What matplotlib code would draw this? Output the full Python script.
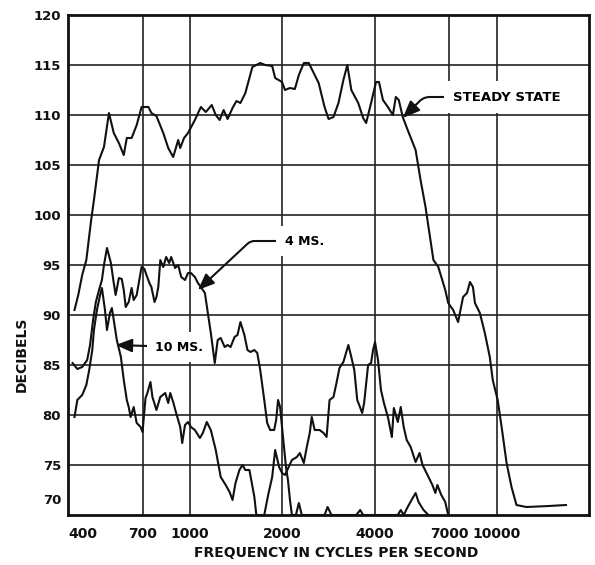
"""Transient spectra of a loudspeaker: steady state vs. 4 ms and 10 ms decay."""

import matplotlib
matplotlib.use("Agg")
import matplotlib.pyplot as plt

plt.rcParams["font.family"] = ["DejaVu Sans"]
plt.rcParams["font.weight"] = "bold"

# ---- data (frequency in Hz, level in dB) ----
steady_f = [420, 432, 445, 459, 476, 486, 505, 524, 544, 564, 586, 608, 622, 645,
            670, 695, 732, 748, 777, 818, 849, 881, 901, 915, 929, 956, 985, 1037,
            1085, 1126, 1177, 1213, 1249, 1287, 1326, 1376, 1417, 1460, 1515, 1597,
            1694, 1759, 1853, 1895, 1995, 2040, 2118, 2197, 2264, 2350, 2439, 2531,
            2627, 2746, 2830, 2936, 3048, 3163, 3258, 3357, 3536, 3669, 3752, 3894,
            4041, 4132, 4257, 4418, 4586, 4689, 4794, 4939, 5126, 5440, 5646, 5860,
            6081, 6218, 6452, 6796, 6949, 7213, 7485, 7769, 8003, 8184, 8368, 8493,
            8815, 9148, 9495, 9709, 10075, 10378, 10771, 11178, 11601, 12496, 14820,
            16820]
steady_db = [90.5, 92.0, 94.0, 95.5, 99.5, 101.5, 105.5, 106.8, 110.2, 108.2, 107.2,
             106.0, 107.7, 107.7, 109.0, 110.8, 110.8, 110.2, 109.9, 108.2, 106.7,
             105.8, 106.8, 107.5, 106.7, 107.7, 108.2, 109.5, 110.8, 110.3, 111.0,
             110.0, 109.5, 110.5, 109.6, 110.7, 111.4, 111.2, 112.2, 114.8, 115.2,
             115.0, 114.9, 113.7, 113.3, 112.5, 112.7, 112.6, 114.0, 115.2, 115.2,
             114.2, 113.2, 110.8, 109.6, 109.8, 111.2, 113.5, 115.0, 112.5, 111.2,
             109.7, 109.2, 111.2, 113.3, 113.3, 111.5, 110.8, 110.0, 111.8, 111.5,
             109.8, 108.5, 106.5, 103.5, 100.8, 97.5, 95.5, 94.8, 92.5, 91.2, 90.5,
             89.3, 91.8, 92.2, 93.3, 92.8, 91.2, 90.2, 88.2, 85.8, 83.5, 81.5, 78.8,
             75.2, 72.8, 71.0, 70.8, 70.9, 71.0]

ms4_f = [414, 429, 445, 462, 472, 483, 493, 505, 516, 524, 536, 552, 564, 572, 586,
         599, 608, 617, 631, 645, 655, 670, 685, 695, 710, 721, 737, 748, 766, 777,
         788, 800, 818, 836, 855, 868, 894, 915, 936, 963, 985, 1007, 1037, 1061,
         1085, 1118, 1143, 1169, 1204, 1231, 1259, 1297, 1326, 1356, 1397, 1428,
         1460, 1504, 1539, 1574, 1621, 1657, 1694, 1746, 1785, 1825, 1881, 1909,
         1937, 1966, 1995, 2025, 2055, 2086, 2118, 2149, 2214, 2264, 2315, 2746,
         2809, 2893, 3484, 3589, 3669, 4759, 4866, 4975, 5126, 5321, 5440, 5562,
         5773, 5992]
ms4_db = [85.2, 84.6, 84.8, 85.5, 87.0, 89.5, 91.3, 92.5, 93.5, 95.0, 96.7, 95.2,
          93.2, 92.0, 93.7, 93.6, 92.5, 90.8, 91.3, 92.7, 91.5, 92.0, 93.7, 94.8,
          94.6, 94.0, 93.2, 92.8, 91.3, 91.8, 92.8, 95.5, 94.8, 95.8, 95.2, 95.8,
          94.7, 95.0, 93.8, 93.5, 94.2, 94.2, 93.8, 93.2, 92.8, 92.2, 90.2, 88.2,
          85.2, 87.5, 87.7, 86.8, 87.0, 86.8, 87.8, 88.0, 89.3, 88.0, 86.5, 86.3,
          86.5, 86.2, 84.5, 81.5, 79.2, 78.5, 78.5, 79.5, 81.5, 80.8, 78.8, 76.8,
          74.8, 73.5, 71.5, 70.0, 70.0, 71.2, 70.0, 70.0, 70.8, 70.0, 70.0, 70.5,
          70.0, 70.0, 70.5, 70.0, 70.8, 71.7, 72.2, 71.3, 70.5, 70.0]

ms10_f = [420, 429, 445, 459, 469, 480, 486, 497, 509, 516, 528, 536, 548, 556, 564,
          577, 595, 608, 622, 631, 640, 655, 670, 690, 700, 716, 726, 743, 754, 777,
          800, 830, 849, 862, 881, 901, 929, 943, 963, 985, 1007, 1037, 1077, 1101,
          1134, 1169, 1213, 1259, 1307, 1346, 1376, 1407, 1449, 1482, 1515, 1562,
          1621, 1645, 1746, 1798, 1853, 1895, 1952, 1995, 2040, 2149, 2231, 2281,
          2350, 2403, 2457, 2494, 2550, 2646, 2726, 2788, 2851, 2936, 3003, 3071,
          3163, 3283, 3357, 3433, 3510, 3562, 3642, 3696, 3808, 3894, 3952, 4011,
          4102, 4194, 4288, 4418, 4552, 4620, 4759, 4866, 4975, 5088, 5242, 5440,
          5604, 5731, 5948, 6172, 6310, 6405, 6597, 6796, 6949]
ms10_db = [79.8, 81.5, 82.0, 83.0, 84.5, 86.5, 88.5, 90.5, 92.0, 92.7, 90.5, 88.5,
           90.2, 90.7, 89.5, 87.5, 85.8, 83.5, 81.5, 80.8, 79.8, 80.8, 79.2, 78.8,
           78.3, 81.7, 82.2, 83.3, 81.8, 80.5, 81.8, 82.2, 81.2, 82.2, 81.3, 80.2,
           78.8, 77.2, 79.0, 79.3, 78.8, 78.5, 77.7, 78.2, 79.3, 78.5, 76.5, 73.8,
           73.0, 72.3, 71.5, 73.2, 74.5, 75.0, 74.5, 74.5, 71.8, 70.0, 70.0, 72.0,
           73.8, 76.5, 74.8, 74.2, 74.0, 75.5, 75.8, 76.2, 75.2, 76.8, 78.2, 79.8,
           78.5, 78.5, 78.2, 77.8, 81.5, 81.8, 83.2, 84.7, 85.3, 87.0, 85.8, 84.5,
           81.5, 81.0, 80.2, 81.2, 85.0, 85.2, 86.5, 87.3, 85.5, 82.5, 81.2, 79.8,
           77.8, 80.7, 79.3, 80.8, 78.8, 77.5, 76.8, 75.3, 76.2, 75.0, 74.0, 73.0,
           72.2, 73.0, 72.0, 71.3, 70.0]

freq_ticks = [400, 700, 1000, 2000, 4000, 7000, 10000]
db_ticks = [75, 80, 85, 90, 95, 100, 105, 110, 115, 120]

# ---- figure ----
fig = plt.figure(figsize=(5.95, 5.65), dpi=100, facecolor="white")
ax = fig.add_axes([68 / 595, 50 / 565, 521 / 595, 500 / 565])

for f, db in [(steady_f, steady_db), (ms4_f, ms4_db), (ms10_f, ms10_db)]:
    ax.plot(f, db, color="#111", linewidth=1.5, zorder=3, solid_joinstyle="round")

ax.set_xscale("log")
ax.set_xlim(400, 20000)
ax.set_ylim(70, 120)
ax.set_xticks(freq_ticks)
ax.set_xticklabels([str(t) for t in freq_ticks], fontsize=10, fontweight="bold")
ax.minorticks_off()
ax.set_yticks(db_ticks)
ax.set_yticklabels([str(t) for t in db_ticks], fontsize=9.5, fontweight="bold")
ax.tick_params(axis="both", length=0, colors="#111")
ax.tick_params(axis="x", pad=9)
ax.tick_params(axis="y", pad=5)
ax.get_xticklabels()[0].set_horizontalalignment("left")

ax.set_axisbelow(True)
ax.grid(True, color="#222", linewidth=1.2)
for sp in ax.spines.values():
    sp.set_linewidth(2.0)
    sp.set_color("#111")

# bottom label sits a little above the baseline, as on the original sheet
ax.text(-0.012, 71.5, "70", transform=ax.get_yaxis_transform(), ha="right",
        va="center", fontsize=9.5, fontweight="bold", color="#111")

box = dict(boxstyle="square,pad=0.7", facecolor="white", edgecolor="none")
arrow = dict(arrowstyle="-|>,head_length=1.1,head_width=0.45", color="#111",
             lw=1.5, shrinkA=0, shrinkB=0)

ax.annotate("STEADY STATE", xy=(4939, 109.7), xytext=(7213, 111.8),
            ha="left", va="center", fontsize=9.5, fontweight="bold", bbox=box,
            zorder=2, arrowprops=dict(arrow, connectionstyle="angle,angleA=0,angleB=45,rad=6"))
ax.annotate("4 MS.", xy=(1061, 92.5), xytext=(2040, 97.4),
            ha="left", va="center", fontsize=9, fontweight="bold", bbox=box,
            zorder=2, arrowprops=dict(arrow, connectionstyle="angle,angleA=0,angleB=43,rad=4"))
ax.annotate("10 MS.", xy=(572, 87.0), xytext=(771, 86.8),
            ha="left", va="center", fontsize=9, fontweight="bold", bbox=box,
            zorder=2, arrowprops=arrow)

fig.text(22 / 595, 1 - 354 / 565, "DECIBELS", rotation=90, ha="center", va="center",
         fontsize=10, fontweight="bold", color="#111")
fig.text(336 / 595, 1 - 553 / 565, "FREQUENCY IN CYCLES PER SECOND", ha="center",
         va="center", fontsize=10, fontweight="bold", color="#111")

fig.savefig("out.png", dpi=100, facecolor="white")
